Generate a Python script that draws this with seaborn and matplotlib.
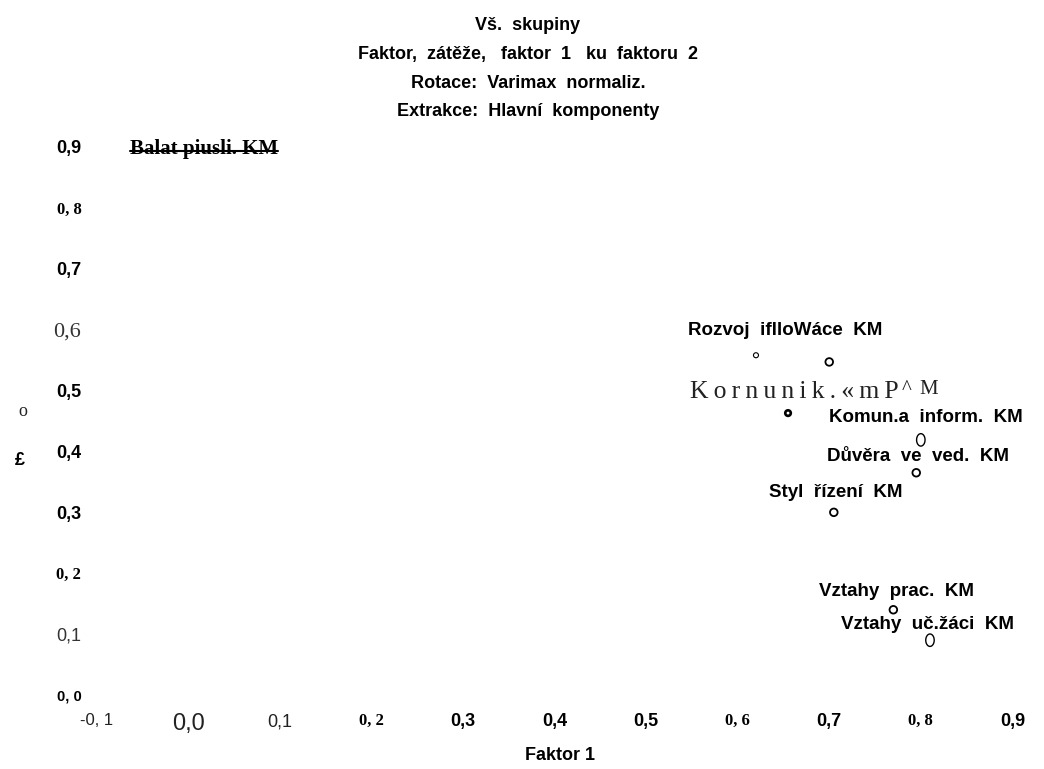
import numpy as np
import pandas as pd
import seaborn as sns
import matplotlib.pyplot as plt
from matplotlib.path import Path
from matplotlib.lines import Line2D

# ---- data -------------------------------------------------------------
factor1 = [0.62, 0.70, 0.655, 0.80, 0.795, 0.705, 0.77, 0.81]
factor2 = [0.558, 0.547, 0.463, 0.419, 0.365, 0.300, 0.140, 0.090]
glyphs = ["deg", "o", "degb", "O", "o", "o", "o", "O"]
point_labels = ["", "Rozvoj  iflloWáce  KM", "Kornunik.«mP", "Komun.a  inform.  KM",
                "Důvěra  ve  ved.  KM", "Styl  řízení  KM", "Vztahy  prac.  KM",
                "Vztahy  uč.žáci  KM"]

xticks = [-0.1, 0.0, 0.1, 0.2, 0.3, 0.4, 0.5, 0.6, 0.7, 0.8, 0.9]
xtick_labels = ["-0, 1", "0,0", "0,1", "0, 2", "0,3", "0,4", "0,5", "0, 6", "0,7", "0, 8", "0,9"]
yticks = [0.9, 0.8, 0.7, 0.6, 0.5, 0.4, 0.3, 0.2, 0.1, 0.0]
ytick_labels = ["0,9", "0, 8", "0,7", "0,6", "0,5", "0,4", "0,3", "0, 2", "0,1", "0, 0"]

title_lines = ["Vš.  skupiny", "Faktor,  zátěže,   faktor  1   ku  faktoru  2",
               "Rotace:  Varimax  normaliz.", "Extrakce:  Hlavní  komponenty"]
xlabel = "Faktor 1"

# ---- styles -----------------------------------------------------------
SANS = ["Liberation Sans", "DejaVu Sans"]
SERIF = ["Liberation Serif", "DejaVu Serif"]
THIN = "\u2009"

xtick_style = [(SANS, "normal", 12), (SANS, "normal", 17), (SANS, "normal", 13),
               (SERIF, "bold", 12), (SANS, "bold", 13), (SANS, "bold", 13),
               (SANS, "bold", 13), (SERIF, "bold", 12), (SANS, "bold", 13),
               (SERIF, "bold", 12), (SANS, "bold", 13)]
ytick_style = [(SANS, "bold", 13), (SERIF, "bold", 12), (SANS, "bold", 13),
               (SERIF, "normal", 16), (SANS, "bold", 13), (SANS, "bold", 13),
               (SANS, "bold", 13), (SERIF, "bold", 12), (SANS, "normal", 13),
               (SANS, "bold", 10.5)]

# label placement relative to each point (pixels), alignment
label_offsets = [(0, 0), (-44, 31), (-98, 15), (5, 22), (2, 16), (2, 20), (3, 18), (-2, 16)]
label_ha = ["center", "center", "left", "center", "center", "center", "center", "center"]
label_va = ["center", "center", "baseline", "center", "center", "center", "center", "center"]

theta = np.linspace(0, 2 * np.pi, 73)
oval = Path(np.column_stack([0.68 * np.cos(theta), np.sin(theta)]), closed=True)
glyph_style = {
    "deg": dict(marker="o", s=13, lw=0.8),
    "degb": dict(marker="o", s=16, lw=1.9),
    "o": dict(marker="o", s=30, lw=1.3),
    "O": dict(marker=oval, s=80, lw=1.0),
}

sns.set_theme(style="white")
plt.rcParams["font.family"] = SANS

W, H = 1044, 769
fig = plt.figure(figsize=(W / 100, H / 100), dpi=100)
fig.patch.set_facecolor("white")
ax = fig.add_axes([96.6 / W, (H - 695) / H, (1012.4 - 96.6) / W, (695 - 147) / H])
ax.set_facecolor("white")
ax.set_xlim(-0.1, 0.9)
ax.set_ylim(0.0, 0.9)
for sp in ax.spines.values():
    sp.set_visible(False)
ax.grid(False)

df = pd.DataFrame({"f1": factor1, "f2": factor2, "glyph": glyphs, "label": point_labels})

for g, st in glyph_style.items():
    sub = df[df["glyph"] == g]
    sns.scatterplot(data=sub, x="f1", y="f2", ax=ax, marker=st["marker"], s=st["s"],
                    legend=False)
    coll = ax.collections[-1]
    coll.set_facecolor("none")
    coll.set_edgecolor("black")
    coll.set_linewidth(st["lw"])

ax.set_xlabel("")
ax.set_ylabel("")

# point labels
for i, row in df.iterrows():
    if not row["label"]:
        continue
    if row["label"].startswith("Kornunik"):
        ax.annotate(THIN.join(row["label"]), (row["f1"], row["f2"]), xytext=label_offsets[i],
                    textcoords="offset pixels", ha="left", va="baseline",
                    family=SERIF, fontsize=18.5, color="#222222")
        ax.annotate("^" + THIN + THIN + "M", (row["f1"], row["f2"]),
                    xytext=(label_offsets[i][0] + 212, 19),
                    textcoords="offset pixels", ha="left", va="baseline",
                    family=SERIF, fontsize=15, color="#222222")
    else:
        ax.annotate(row["label"], (row["f1"], row["f2"]), xytext=label_offsets[i],
                    textcoords="offset pixels", ha=label_ha[i], va=label_va[i],
                    family=SANS, fontsize=13.5, fontweight="bold", color="black")

# struck-through label at the top left
struck = ax.text(-0.0635, 0.888, "Balat piusli. KM", ha="left", va="baseline",
                 family=SERIF, fontsize=15, fontweight="bold", color="black")

# ticks
ax.set_xticks(xticks)
ax.set_xticklabels(xtick_labels)
ax.set_yticks(yticks)
ax.set_yticklabels(ytick_labels)
ax.tick_params(axis="both", length=0)
ax.tick_params(axis="x", pad=13)
ax.tick_params(axis="y", pad=11)
for lab, (fam, wt, fs) in zip(ax.get_xticklabels(), xtick_style):
    lab.set_family(fam)
    lab.set_fontweight(wt)
    lab.set_fontsize(fs)
    lab.set_color("black" if wt == "bold" else "#222222")
for lab, (fam, wt, fs) in zip(ax.get_yticklabels(), ytick_style):
    lab.set_family(fam)
    lab.set_fontweight(wt)
    lab.set_fontsize(fs)
    lab.set_color("black" if wt == "bold" else "#333333")

# titles and axis labels
for line, y in zip(title_lines, [25, 54, 83, 111]):
    fig.text(528 / W, 1 - y / H, line, ha="center", va="center",
             family=SANS, fontsize=13, fontweight="bold", color="black")
fig.text(560 / W, 1 - 755 / H, xlabel, ha="center", va="center",
         family=SANS, fontsize=13, fontweight="bold", color="black")
fig.text(23 / W, 1 - 412 / H, "o", ha="center", va="center",
         family=SERIF, fontsize=13, color="#222222")
fig.text(20 / W, 1 - 460 / H, "£", ha="center", va="center",
         family=SANS, fontsize=13, fontweight="bold", color="black")

# strike line through the struck label
fig.canvas.draw()
bb = struck.get_window_extent()
ys = bb.y0 + 0.40 * bb.height
fig.add_artist(Line2D([bb.x0 / W, bb.x1 / W], [ys / H, ys / H],
                      transform=fig.transFigure, color="black", lw=1.5))

fig.savefig("out.png", dpi=100, facecolor="white")
